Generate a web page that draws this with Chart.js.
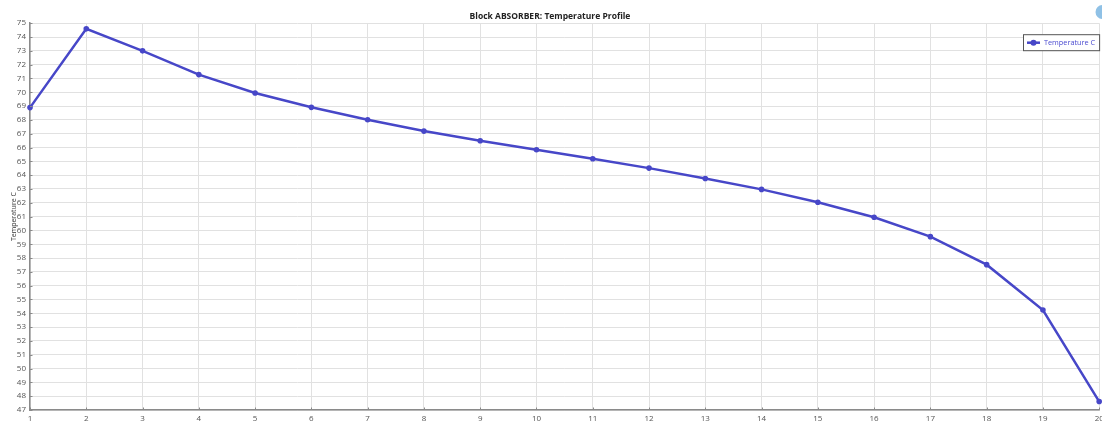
<!DOCTYPE html>
<html>
<head>
<meta charset="utf-8">
<title>Block ABSORBER: Temperature Profile</title>
<script src="https://cdn.jsdelivr.net/npm/chart.js@4/dist/chart.umd.min.js"></script>
<style>
  html, body { margin: 0; padding: 0; background: #ffffff; }
  #wrap { width: 1102px; height: 426px; position: relative; }
</style>
</head>
<body>
<div id="wrap"><canvas id="chart" width="1102" height="426"></canvas></div>
<script>
// Stage numbers along the column
const stages = ['1','2','3','4','5','6','7','8','9','10','11','12','13','14','15','16','17','18','19','20'];
// Temperature on each stage, C
const temperatureC = [68.89, 74.59, 73.0, 71.28, 69.95, 68.91, 68.01, 67.19, 66.49, 65.84,
                      65.19, 64.51, 63.76, 62.97, 62.04, 60.95, 59.55, 57.52, 54.24, 47.61];
// Vertical axis range and step
const yMin = 47;
const yMax = 75;
const yStep = 1;

const lineColor = '#4747c8';
const tickFont = { family: 'Open Sans', size: 8 };

// Legend box in the upper right corner of the plot, small inside ticks,
// and the round badge in the top right corner of the canvas.
const decorPlugin = {
  id: 'decor',
  afterDatasetsDraw(chart) {
    const ctx = chart.ctx;
    const area = chart.chartArea;
    const xs = chart.scales.x, ys = chart.scales.y;
    ctx.save();
    // inside tick marks
    ctx.strokeStyle = '#8a8a8a';
    ctx.lineWidth = 1;
    ys.ticks.forEach((t) => {
      const py = Math.round(ys.getPixelForValue(t.value)) + 0.5;
      ctx.beginPath(); ctx.moveTo(area.left, py); ctx.lineTo(area.left + 2.5, py); ctx.stroke();
    });
    xs.ticks.forEach((t, i) => {
      const px = Math.round(xs.getPixelForTick(i)) + 0.5;
      ctx.beginPath(); ctx.moveTo(px, area.bottom); ctx.lineTo(px, area.bottom - 2.5); ctx.stroke();
    });

    // legend
    const ds = chart.data.datasets[0];
    ctx.font = '7.3px "Open Sans"';
    const tw = ctx.measureText(ds.label).width;
    const boxW = tw + 25, boxH = 16;
    const bx = Math.round(area.right - boxW), by = area.top + 11;
    ctx.fillStyle = '#ffffff';
    ctx.fillRect(bx, by, boxW, boxH);
    ctx.strokeStyle = '#555555';
    ctx.lineWidth = 1;
    ctx.strokeRect(bx + 0.5, by + 0.5, boxW, boxH);
    const cy = by + boxH / 2 + 0.5;
    ctx.strokeStyle = ds.borderColor;
    ctx.lineWidth = 2.5;
    ctx.beginPath(); ctx.moveTo(bx + 4, cy); ctx.lineTo(bx + 17, cy); ctx.stroke();
    ctx.fillStyle = ds.borderColor;
    ctx.beginPath(); ctx.arc(bx + 10.5, cy, 3, 0, Math.PI * 2); ctx.fill();
    ctx.fillStyle = '#4a4ad0';
    ctx.textBaseline = 'middle';
    ctx.textAlign = 'left';
    ctx.fillText(ds.label, bx + 21, cy);

    // badge
    ctx.fillStyle = '#8fc1e6';
    ctx.beginPath(); ctx.arc(chart.width + 0.5, 12, 7, 0, Math.PI * 2); ctx.fill();
    ctx.restore();
  }
};

new Chart(document.getElementById('chart'), {
  type: 'line',
  data: {
    labels: stages,
    datasets: [{
      label: 'Temperature C',
      data: temperatureC,
      borderColor: lineColor,
      backgroundColor: lineColor,
      borderWidth: 2.5,
      pointRadius: 2.8,
      pointHoverRadius: 2.8,
      pointBackgroundColor: lineColor,
      pointBorderWidth: 0,
      tension: 0,
      clip: 6
    }]
  },
  options: {
    responsive: false,
    animation: false,
    events: [],
    layout: { padding: { left: 0, right: 2, top: 0, bottom: 0 } },
    plugins: {
      legend: { display: false },
      tooltip: { enabled: false },
      title: {
        display: true,
        text: 'Block ABSORBER: Temperature Profile',
        color: '#222222',
        font: { family: 'Open Sans', size: 8.5, weight: 'bold' },
        padding: { top: 11, bottom: 2 }
      }
    },
    scales: {
      x: {
        type: 'category',
        offset: false,
        grid: { color: '#e1e1e1', lineWidth: 1, drawTicks: false },
        border: { color: '#8a8a8a', width: 1.5 },
        ticks: { color: '#555555', font: tickFont, padding: 4, autoSkip: false, maxRotation: 0 },
        afterFit(scale) { scale.height = 16; scale.paddingLeft = 0; scale.paddingRight = 0; }
      },
      y: {
        min: yMin,
        max: yMax,
        grid: { color: '#e1e1e1', lineWidth: 1, drawTicks: false },
        border: { color: '#8a8a8a', width: 1.5 },
        ticks: { stepSize: yStep, color: '#555555', font: tickFont, padding: 4 },
        title: {
          display: true,
          text: 'Temperature C',
          color: '#333333',
          font: { family: 'Open Sans', size: 7 },
          padding: { top: 10, bottom: 0 }
        },
        afterFit(scale) { scale.width = 30; }
      }
    }
  },
  plugins: [decorPlugin]
});
</script>
</body>
</html>
